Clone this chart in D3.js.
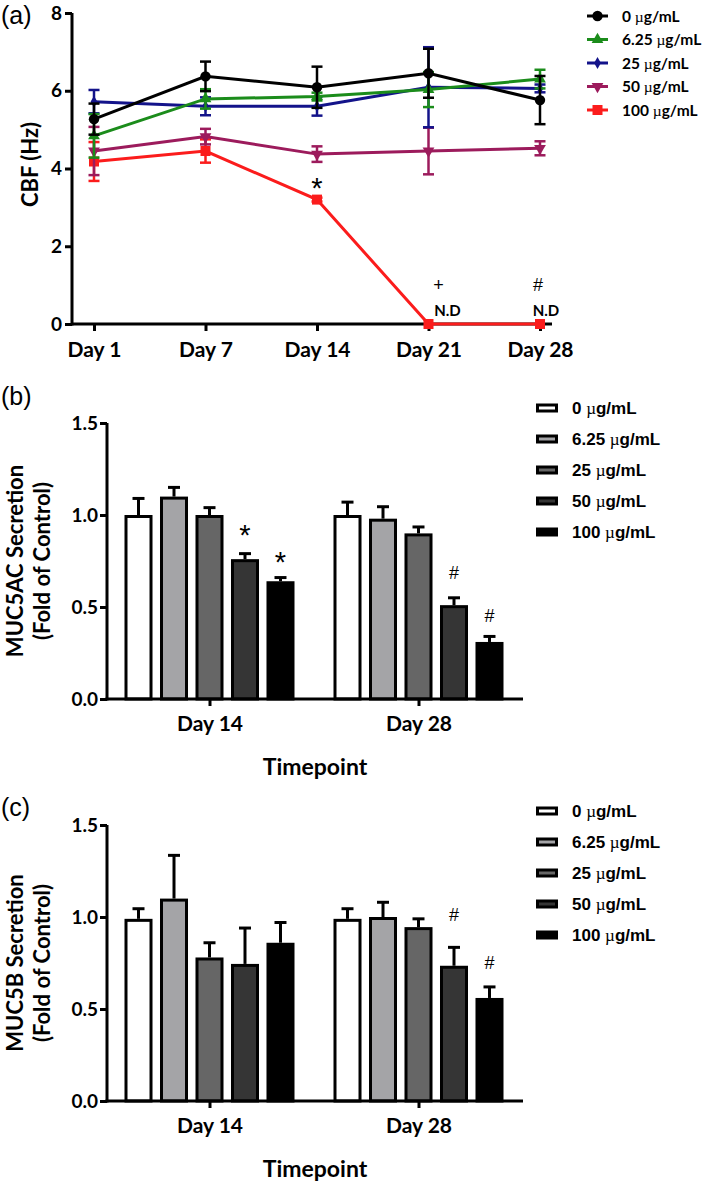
<!DOCTYPE html>
<html><head><meta charset="utf-8">
<script src="https://cdn.jsdelivr.net/npm/d3@7"></script>
<style>body{margin:0;background:#fff} svg{display:block}</style>
</head><body>
<svg id="chart" width="709" height="1185"></svg>
<script>
// ---------- data ----------
const days = ["Day 1", "Day 7", "Day 14", "Day 21", "Day 28"];
const concentrations = ["0", "6.25", "25", "50", "100"];
const unitText = "g/mL";

const cbfMean0 = [5.27, 6.37, 6.09, 6.45, 5.76];
const cbfErr0 = [0.40, 0.38, 0.53, 0.63, 0.62];
const cbfMean625 = [4.84, 5.79, 5.85, 6.03, 6.30];
const cbfErr625 = [0.56, 0.25, 0.10, 0.45, 0.24];
const cbfMean25 = [5.72, 5.60, 5.60, 6.09, 6.06];
const cbfErr25 = [0.30, 0.23, 0.24, 1.03, 0.10];
const cbfMean50 = [4.45, 4.82, 4.37, 4.45, 4.52];
const cbfErr50 = [0.62, 0.20, 0.20, 0.60, 0.18];
const cbfMean100 = [4.18, 4.45, 3.20, 0, 0];
const cbfErr100 = [0.50, 0.30, 0.05, 0, 0];
const cbfTicks = [0, 2, 4, 6, 8];
const cbfNotes = [
  {day: "Day 14", value: 3.67, text: "*", dx: 0},
  {day: "Day 21", value: 1.00, text: "+", dx: 10},
  {day: "Day 21", value: 0.36, text: "N.D", dx: 19},
  {day: "Day 28", value: 1.00, text: "#", dx: -2},
  {day: "Day 28", value: 0.36, text: "N.D", dx: 6}
];

const mucDays = ["Day 14", "Day 28"];
const mucTicks = [0.0, 0.5, 1.0, 1.5];
const muc5acDay14 = [1.00, 1.10, 1.00, 0.76, 0.64];
const muc5acDay14Err = [0.09, 0.05, 0.04, 0.03, 0.02];
const muc5acDay28 = [1.00, 0.98, 0.90, 0.51, 0.31];
const muc5acDay28Err = [0.07, 0.065, 0.035, 0.04, 0.03];
const muc5acNotes = [
  {day: "Day 14", conc: "50", value: 0.93, text: "*"},
  {day: "Day 14", conc: "100", value: 0.78, text: "*"},
  {day: "Day 28", conc: "50", value: 0.685, text: "#"},
  {day: "Day 28", conc: "100", value: 0.45, text: "#"}
];
const muc5bDay14 = [0.99, 1.10, 0.78, 0.745, 0.86];
const muc5bDay14Err = [0.055, 0.235, 0.08, 0.195, 0.11];
const muc5bDay28 = [0.99, 1.00, 0.945, 0.735, 0.56];
const muc5bDay28Err = [0.055, 0.08, 0.045, 0.10, 0.06];
const muc5bNotes = [
  {day: "Day 28", conc: "50", value: 1.01, text: "#"},
  {day: "Day 28", conc: "100", value: 0.75, text: "#"}
];

// ---------- styles ----------
const lineColors = ["#000000", "#1b8c1b", "#13138a", "#9c1b5c", "#fb1c1c"];
const barFills = ["#ffffff", "#a4a4a7", "#666666", "#353535", "#000000"];
const BOLD = "Lato, 'Open Sans', sans-serif";
const ARIAL = "'Liberation Sans', Arial, sans-serif";

const svg = d3.select("#chart");

function addConcText(sel, conc) {
  sel.append("tspan").text(conc + " ");
  sel.append("tspan").attr("font-family", "'Liberation Serif', serif").attr("font-weight", "normal").text("\u00B5");
  sel.append("tspan").text(unitText);
}

function panelLetter(txt, y) {
  svg.append("text").attr("x", 1).attr("y", y)
    .attr("font-family", ARIAL).attr("font-size", 25).text(txt);
}

function styleAxis(g) {
  g.selectAll(".domain").attr("stroke", "#000").attr("stroke-width", 3);
  g.selectAll(".tick line").attr("stroke", "#000").attr("stroke-width", 3);
  g.selectAll(".tick text").attr("fill", "#000").attr("font-family", BOLD).attr("font-weight", "bold");
}

// ---------- panel (a) ----------
panelLetter("(a)", 24);
const xA = d3.scalePoint().domain(days).range([94, 540]);
const yA = d3.scaleLinear().domain([0, 8]).range([324, 13]);

const series = [
  {mean: cbfMean0, err: cbfErr0, sym: d3.symbolCircle, size: 85, rot: 0},
  {mean: cbfMean625, err: cbfErr625, sym: d3.symbolTriangle, size: 60, rot: 0},
  {mean: cbfMean25, err: cbfErr25, sym: d3.symbolDiamond, size: 40, rot: 0},
  {mean: cbfMean50, err: cbfErr50, sym: d3.symbolTriangle, size: 60, rot: 180},
  {mean: cbfMean100, err: cbfErr100, sym: d3.symbolSquare, size: 100, rot: 0}
];
series.forEach((s, i) => s.color = lineColors[i]);

const gA = svg.append("g");
const xAxA = gA.append("g").attr("transform", `translate(0,${yA(0)})`)
  .call(d3.axisBottom(xA).tickSize(7).tickSizeOuter(0));
xAxA.select(".domain").attr("d", `M72,0H552`);
styleAxis(xAxA);
xAxA.selectAll(".tick text").attr("dy", null).attr("y", 33).attr("font-size", 21);

const yAxA = gA.append("g").attr("transform", "translate(72,0)")
  .call(d3.axisLeft(yA).tickValues(cbfTicks).tickSize(7).tickSizeOuter(0).tickPadding(3).tickFormat(d3.format("d")));
yAxA.select(".domain").attr("d", `M0,${yA(0) + 1.5}V${yA(8)}`);
styleAxis(yAxA);
yAxA.selectAll(".tick text").attr("font-size", 19);

svg.append("text").attr("transform", `translate(38,${(yA(0) + yA(8)) / 2 - 4}) rotate(-90)`)
  .attr("text-anchor", "middle").attr("font-family", BOLD).attr("font-weight", "bold")
  .attr("font-size", 22).text("CBF (Hz)");

const line = d3.line().x((d, i) => xA(days[i])).y(d => yA(d));
const drawOrder = [4, 3, 2, 1, 0];
drawOrder.forEach(i => {
  const s = series[i];
  const g = gA.append("g");
  s.mean.forEach((m, j) => {
    const e = s.err[j];
    if (e <= 0) return;
    const x = xA(days[j]);
    g.append("line").attr("x1", x).attr("x2", x).attr("y1", yA(m - e)).attr("y2", yA(m + e))
      .attr("stroke", s.color).attr("stroke-width", 2.5);
    [m - e, m + e].forEach(v => g.append("line").attr("x1", x - 5.5).attr("x2", x + 5.5)
      .attr("y1", yA(v)).attr("y2", yA(v)).attr("stroke", s.color).attr("stroke-width", 2.5));
  });
  g.append("path").datum(s.mean).attr("d", line).attr("fill", "none")
    .attr("stroke", s.color).attr("stroke-width", 3);
  g.selectAll("path.pt").data(s.mean).join("path").attr("class", "pt")
    .attr("d", d3.symbol().type(s.sym).size(s.size))
    .attr("transform", (d, j) => `translate(${xA(days[j])},${yA(d)}) rotate(${s.rot})`)
    .attr("fill", s.color);
});

cbfNotes.forEach(n => {
  const isND = n.text === "N.D";
  svg.append("text").attr("x", xA(n.day) + n.dx).attr("y", yA(n.value))
    .attr("text-anchor", "middle").attr("dominant-baseline", "central")
    .attr("font-family", isND ? BOLD : ARIAL).attr("font-weight", isND ? "bold" : "normal")
    .attr("font-size", n.text === "*" ? 29 : (isND ? 15 : 18))
    .attr("dy", n.text === "*" ? 7 : 0)
    .text(n.text);
});

const legA = svg.append("g");
series.forEach((s, i) => {
  const y = 16 + i * 23.5;
  legA.append("line").attr("x1", 587).attr("x2", 608).attr("y1", y).attr("y2", y)
    .attr("stroke", s.color).attr("stroke-width", 3);
  legA.append("path").attr("d", d3.symbol().type(s.sym).size(s.size))
    .attr("transform", `translate(597.5,${y}) rotate(${s.rot})`).attr("fill", s.color);
  const t = legA.append("text").attr("x", 622).attr("y", y + 5.5)
    .attr("font-family", BOLD).attr("font-weight", "bold").attr("font-size", 15.5);
  addConcText(t, concentrations[i]);
});

// ---------- bar panels ----------
function barPanel(opts) {
  const {top, bottom, letterY, title, d14, d14e, d28, d28e, notes, legendY} = opts;
  panelLetter(opts.letter, letterY);
  const x0 = d3.scalePoint().domain(mucDays).range([105, 523]).padding(0.5);
  const x1 = d3.scaleBand().domain(concentrations).range([-85, 85]).paddingInner(0.211);
  const y = d3.scaleLinear().domain([0, 1.5]).range([bottom, top]);
  const g = svg.append("g");
  const vals = {"Day 14": [d14, d14e], "Day 28": [d28, d28e]};
  const bars = [];
  mucDays.forEach(day => concentrations.forEach((c, i) =>
    bars.push({day, c, i, v: vals[day][0][i], e: vals[day][1][i]})));
  const bw = x1.bandwidth();
  g.selectAll("rect.bar").data(bars).join("rect").attr("class", "bar")
    .attr("x", d => x0(d.day) + x1(d.c) + 1.5)
    .attr("width", bw - 3)
    .attr("y", d => y(d.v) + 1.5)
    .attr("height", d => y(0) - y(d.v) - 1.5)
    .attr("fill", d => barFills[d.i]).attr("stroke", "#000").attr("stroke-width", 3);
  bars.forEach(d => {
    const cx = x0(d.day) + x1(d.c) + bw / 2;
    g.append("line").attr("x1", cx).attr("x2", cx).attr("y1", y(d.v)).attr("y2", y(d.v + d.e))
      .attr("stroke", "#000").attr("stroke-width", 3);
    g.append("line").attr("x1", cx - 6).attr("x2", cx + 6).attr("y1", y(d.v + d.e)).attr("y2", y(d.v + d.e))
      .attr("stroke", "#000").attr("stroke-width", 3);
  });
  const xa = g.append("g").attr("transform", `translate(0,${y(0)})`)
    .call(d3.axisBottom(x0).tickSize(7).tickSizeOuter(0));
  xa.select(".domain").attr("d", "M105.5,0H523");
  styleAxis(xa);
  xa.selectAll(".tick text").attr("dy", null).attr("y", 32).attr("font-size", 21);
  const ya = g.append("g").attr("transform", "translate(107,0)")
    .call(d3.axisLeft(y).tickValues(mucTicks).tickSize(7).tickSizeOuter(0).tickPadding(2).tickFormat(d3.format(".1f")));
  ya.select(".domain").attr("d", `M0,${y(0) + 1.5}V${y(1.5)}`);
  styleAxis(ya);
  ya.selectAll(".tick text").attr("font-size", 19);
  const cy = (y(0) + y(1.5)) / 2;
  svg.append("text").attr("transform", `translate(22.5,${cy}) rotate(-90)`)
    .attr("text-anchor", "middle").attr("font-family", BOLD).attr("font-weight", "bold").attr("font-size", 22)
    .text(title);
  svg.append("text").attr("transform", `translate(50,${cy}) rotate(-90)`)
    .attr("text-anchor", "middle").attr("font-family", BOLD).attr("font-weight", "bold").attr("font-size", 22)
    .text("(Fold of Control)");
  svg.append("text").attr("x", 315).attr("y", y(0) + 76).attr("text-anchor", "middle")
    .attr("font-family", BOLD).attr("font-weight", "bold").attr("font-size", 23).text("Timepoint");
  notes.forEach(n => {
    const cx = x0(n.day) + x1(n.conc) + bw / 2;
    svg.append("text").attr("x", cx).attr("y", y(n.value)).attr("text-anchor", "middle")
      .attr("dominant-baseline", "central")
      .attr("font-family", ARIAL).attr("font-size", n.text === "*" ? 29 : 18)
      .attr("dy", n.text === "*" ? 7 : 0).text(n.text);
  });
  concentrations.forEach((c, i) => {
    const ly = legendY + i * 31;
    svg.append("rect").attr("x", 537.5).attr("y", ly - 3).attr("width", 19).attr("height", 6)
      .attr("fill", barFills[i]).attr("stroke", "#000").attr("stroke-width", 3);
    const t = svg.append("text").attr("x", 572).attr("y", ly + 6)
      .attr("font-family", ARIAL).attr("font-weight", "bold").attr("font-size", 17);
    addConcText(t, c);
  });
}

barPanel({letter: "(b)", letterY: 405, top: 423, bottom: 699, title: "MUC5AC Secretion",
  d14: muc5acDay14, d14e: muc5acDay14Err, d28: muc5acDay28, d28e: muc5acDay28Err,
  notes: muc5acNotes, legendY: 408});
barPanel({letter: "(c)", letterY: 816, top: 825, bottom: 1101, title: "MUC5B Secretion",
  d14: muc5bDay14, d14e: muc5bDay14Err, d28: muc5bDay28, d28e: muc5bDay28Err,
  notes: muc5bNotes, legendY: 811});
</script>
</body></html>
